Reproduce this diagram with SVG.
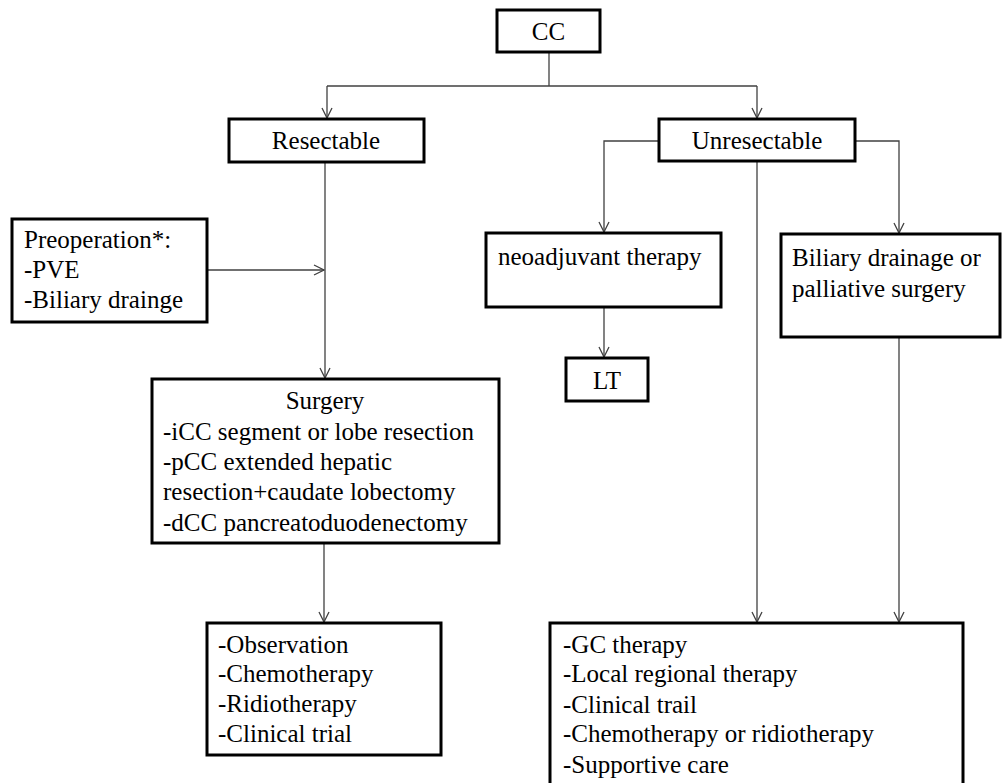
<svg xmlns="http://www.w3.org/2000/svg" width="1006" height="783" viewBox="0 0 1006 783">
<defs>
<style>
.box{fill:#fff;stroke:#000;stroke-width:3}
.t{font-family:"Liberation Serif","Times New Roman",serif;font-size:25px;fill:#000}
.c{text-anchor:middle}
.ln{fill:none;stroke:#404040;stroke-width:1.3}
</style>
<marker id="ah" viewBox="0 0 12 12" refX="11" refY="6" markerWidth="12" markerHeight="12" markerUnits="userSpaceOnUse" orient="auto">
<path d="M1,1 L11,6 L1,11" fill="none" stroke="#404040" stroke-width="1.3"/>
</marker>
</defs>
<rect width="1006" height="783" fill="#fff"/>
<g id="connectors">
<path class="ln" d="M549,52 V86"/>
<path class="ln" d="M327,86 H757"/>
<path class="ln" d="M327,86 V118" marker-end="url(#ah)"/>
<path class="ln" d="M757,86 V118" marker-end="url(#ah)"/>
<path class="ln" d="M325,162 V378" marker-end="url(#ah)"/>
<path class="ln" d="M207,270 H324" marker-end="url(#ah)"/>
<path class="ln" d="M659,141 H604 V232" marker-end="url(#ah)"/>
<path class="ln" d="M855,141 H899 V233" marker-end="url(#ah)"/>
<path class="ln" d="M757,161 V622" marker-end="url(#ah)"/>
<path class="ln" d="M604,307 V357" marker-end="url(#ah)"/>
<path class="ln" d="M899,337 V622" marker-end="url(#ah)"/>
<path class="ln" d="M324,543 V622" marker-end="url(#ah)"/>
</g>
<g id="cc">
<rect class="box" x="497" y="10" width="103" height="42"/>
<text class="t c" x="548.5" y="40">CC</text>
</g>
<g id="resectable">
<rect class="box" x="229" y="119" width="195" height="43"/>
<text class="t c" x="326" y="149">Resectable</text>
</g>
<g id="unresectable">
<rect class="box" x="659" y="119" width="196" height="42"/>
<text class="t c" x="757" y="149">Unresectable</text>
</g>
<g id="preoperation">
<rect class="box" x="12" y="219" width="195" height="103"/>
<text class="t" x="24" y="248">Preoperation*:</text>
<text class="t" x="24" y="278">-PVE</text>
<text class="t" x="24" y="308">-Biliary drainge</text>
</g>
<g id="neoadjuvant">
<rect class="box" x="486" y="233" width="235" height="74"/>
<text class="t" x="498" y="265">neoadjuvant therapy</text>
</g>
<g id="lt">
<rect class="box" x="566" y="358" width="82" height="43"/>
<text class="t c" x="607" y="389">LT</text>
</g>
<g id="biliary">
<rect class="box" x="781" y="234" width="219" height="103"/>
<text class="t" x="792" y="266">Biliary drainage or</text>
<text class="t" x="792" y="297">palliative surgery</text>
</g>
<g id="surgery">
<rect class="box" x="152" y="379" width="347" height="164"/>
<text class="t c" x="325" y="409">Surgery</text>
<text class="t" x="163" y="440">-iCC segment or lobe resection</text>
<text class="t" x="163" y="470">-pCC extended hepatic</text>
<text class="t" x="163" y="500">resection+caudate lobectomy</text>
<text class="t" x="163" y="531">-dCC pancreatoduodenectomy</text>
</g>
<g id="observation">
<rect class="box" x="207" y="623" width="234" height="132"/>
<text class="t" x="218" y="653">-Observation</text>
<text class="t" x="218" y="682">-Chemotherapy</text>
<text class="t" x="218" y="712">-Ridiotherapy</text>
<text class="t" x="218" y="742">-Clinical trial</text>
</g>
<g id="unresectable-options">
<rect class="box" x="550" y="623" width="413" height="170"/>
<text class="t" x="563" y="653">-GC therapy</text>
<text class="t" x="563" y="682">-Local regional therapy</text>
<text class="t" x="563" y="713">-Clinical trail</text>
<text class="t" x="563" y="742">-Chemotherapy or ridiotherapy</text>
<text class="t" x="563" y="773">-Supportive care</text>
</g>
</svg>
